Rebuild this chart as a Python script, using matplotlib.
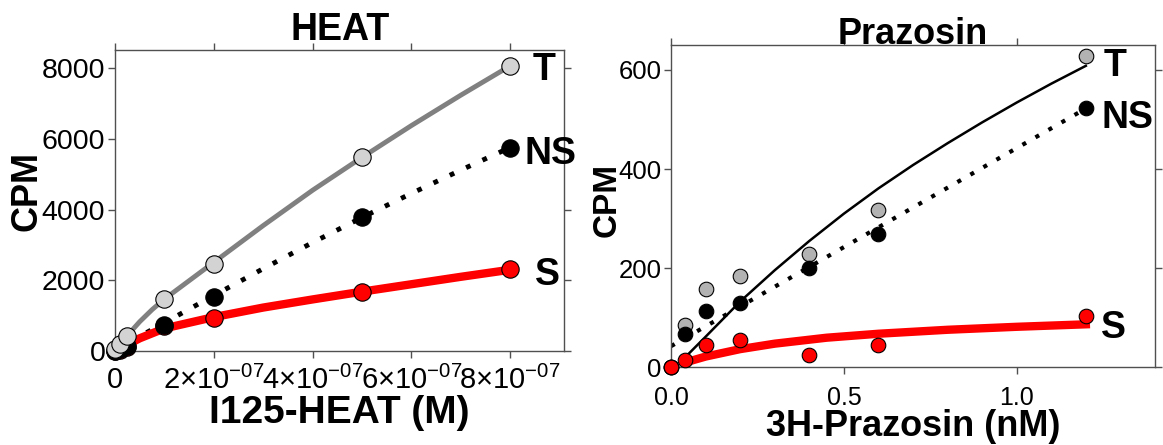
import matplotlib
matplotlib.use("Agg")
import matplotlib.pyplot as plt
from matplotlib.ticker import FixedLocator, FixedFormatter

plt.rcParams['font.family'] = ['Liberation Sans', 'DejaVu Sans']
plt.rcParams['mathtext.fontset'] = 'custom'
plt.rcParams['mathtext.rm'] = 'Liberation Sans'

# --- HEAT panel data (M, CPM) ---
heat_x = [0, 1e-8, 2.5e-8, 1e-7, 2e-7, 5e-7, 8e-7]
heat_T = [60, 200, 420, 1470, 2470, 5480, 8070]
heat_NS = [0, 60, 150, 730, 1530, 3800, 5760]
heat_S = [0, 40, 100, 720, 940, 1670, 2330]

# fitted curves
heat_fit_T_x = [0, 0.25e-7, 0.5e-7, 0.75e-7, 1e-7, 1.5e-7, 2e-7, 3e-7, 4e-7, 5e-7, 6e-7, 7e-7, 8e-7]
heat_fit_T = [0, 440, 830, 1170, 1470, 1990, 2510, 3550, 4550, 5480, 6380, 7240, 8070]
heat_fit_x = [0, 0.5e-7, 1e-7, 2e-7, 3e-7, 4e-7, 5e-7, 6e-7, 7e-7, 8e-7]
heat_fit_S = [0, 360, 640, 960, 1230, 1460, 1680, 1890, 2100, 2300]
heat_fit_NS_x = [0, 1e-7, 2e-7, 3e-7, 4e-7, 5e-7, 6e-7, 7e-7, 8e-7]
heat_fit_NS = [30, 800, 1570, 2330, 3070, 3780, 4460, 5120, 5760]

heat_xticks = [0, 2e-7, 4e-7, 6e-7, 8e-7]
heat_xticklabels = ['0', r'$2{\times}10^{-07}$', r'$4{\times}10^{-07}$',
                    r'$6{\times}10^{-07}$', r'$8{\times}10^{-07}$']
heat_yticks = [0, 2000, 4000, 6000, 8000]

# --- Prazosin panel data (nM, CPM) ---
praz_x = [0, 0.04, 0.1, 0.2, 0.4, 0.6, 1.2]
praz_T = [0, 85, 158, 185, 228, 318, 628]
praz_NS = [0, 67, 113, 130, 201, 270, 524]
praz_S = [0, 16, 46, 55, 26, 46, 103]

praz_fit_T_x = [0.04, 0.1, 0.2, 0.3, 0.4, 0.5, 0.6, 0.7, 0.8, 0.9, 1.0, 1.1, 1.2]
praz_fit_T = [20, 62, 133, 196, 255, 310, 361, 408, 452, 494, 534, 572, 608]
praz_fit_NS_x = [0, 1.2]
praz_fit_NS = [43, 522]
praz_fit_S_x = [0.04, 0.1, 0.2, 0.3, 0.45, 0.6, 0.8, 1.0, 1.2]
praz_fit_S = [10, 22, 37, 48, 60, 68, 76, 82, 87]

praz_xticks = [0.0, 0.5, 1.0]
praz_xticklabels = ['0.0', '0.5', '1.0']
praz_yticks = [0, 200, 400, 600]

fig = plt.figure(figsize=(11.63, 4.45), dpi=100)
ax1 = fig.add_axes([0.0989, 0.2112, 0.3864, 0.6764])
ax2 = fig.add_axes([0.577, 0.1742, 0.4161, 0.7247])

def style_axes(ax, xfs, yfs, xpad):
    for s in ax.spines.values():
        s.set_color('#505050')
        s.set_linewidth(1.0)
    ax.tick_params(direction='out', length=5, width=1, color='#505050',
                   top=True, right=True, labeltop=False, labelright=False)
    ax.tick_params(axis='x', labelsize=xfs, pad=xpad)
    ax.tick_params(axis='y', labelsize=yfs, pad=2)

# HEAT
ax1.plot(heat_fit_T_x, heat_fit_T, color='#808080', lw=3.5, zorder=2)
ax1.plot(heat_fit_NS_x, heat_fit_NS, color='black', lw=3.5, ls=(0, (1, 2.7)), zorder=2)
ax1.plot(heat_fit_x, heat_fit_S, color='#ff0000', lw=6, zorder=2)
ax1.plot(heat_x, heat_S, 'o', ms=12.5, mfc='#ff0000', mec='black', mew=0.8, clip_on=False, zorder=3)
ax1.plot(heat_x, heat_NS, 'o', ms=12.5, mfc='black', mec='black', mew=0.8, clip_on=False, zorder=4)
ax1.plot(heat_x, heat_T, 'o', ms=12.5, mfc='#d3d3d3', mec='black', mew=0.8, clip_on=False, zorder=5)
ax1.set_xlim(0, 9.1e-7)
ax1.set_ylim(0, 8520)
ax1.xaxis.set_major_locator(FixedLocator(heat_xticks))
ax1.xaxis.set_major_formatter(FixedFormatter(heat_xticklabels))
ax1.yaxis.set_major_locator(FixedLocator(heat_yticks))
style_axes(ax1, 21, 20.5, 6)
ax1.set_title('HEAT', fontsize=27, fontweight='bold', pad=7)
ax1.set_xlabel('I125-HEAT (M)', fontsize=28, fontweight='bold')
ax1.xaxis.set_label_coords(0.5, -0.147)
ax1.set_ylabel('CPM', fontsize=26, fontweight='bold')
ax1.yaxis.set_label_coords(-0.156, 0.53)
ax1.text(8.46e-7, 7950, 'T', fontsize=27, fontweight='bold', va='center')
ax1.text(8.30e-7, 5590, 'NS', fontsize=27, fontweight='bold', va='center')
ax1.text(8.50e-7, 2140, 'S', fontsize=27, fontweight='bold', va='center')

# Prazosin
ax2.plot(praz_fit_T_x, praz_fit_T, color='black', lw=1.8, zorder=2)
ax2.plot(praz_fit_NS_x, praz_fit_NS, color='black', lw=3, ls=(0, (1, 2.6)), zorder=2)
ax2.plot(praz_fit_S_x, praz_fit_S, color='#ff0000', lw=6, zorder=2)
ax2.plot(praz_x, praz_T, 'o', ms=10.5, mfc='#b2b2b2', mec='black', mew=0.8, clip_on=False, zorder=3)
ax2.plot(praz_x, praz_NS, 'o', ms=10.5, mfc='black', mec='black', mew=0.8, clip_on=False, zorder=4)
ax2.plot(praz_x, praz_S, 'o', ms=10.5, mfc='#ff0000', mec='black', mew=0.8, clip_on=False, zorder=5)
ax2.set_xlim(0, 1.4)
ax2.set_ylim(0, 650)
ax2.xaxis.set_major_locator(FixedLocator(praz_xticks))
ax2.xaxis.set_major_formatter(FixedFormatter(praz_xticklabels))
ax2.yaxis.set_major_locator(FixedLocator(praz_yticks))
style_axes(ax2, 18, 18.5, 8.5)
ax2.set_title('Prazosin', fontsize=26, fontweight='bold', pad=1)
ax2.set_xlabel('3H-Prazosin (nM)', fontsize=26, fontweight='bold')
ax2.xaxis.set_label_coords(0.5, -0.128)
ax2.set_ylabel('CPM', fontsize=24, fontweight='bold')
ax2.yaxis.set_label_coords(-0.101, 0.52)
ax2.text(1.25, 607, 'T', fontsize=27, fontweight='bold', va='center')
ax2.text(1.245, 503, 'NS', fontsize=27, fontweight='bold', va='center')
ax2.text(1.245, 80, 'S', fontsize=27, fontweight='bold', va='center')

fig.savefig('out.png', dpi=100)
